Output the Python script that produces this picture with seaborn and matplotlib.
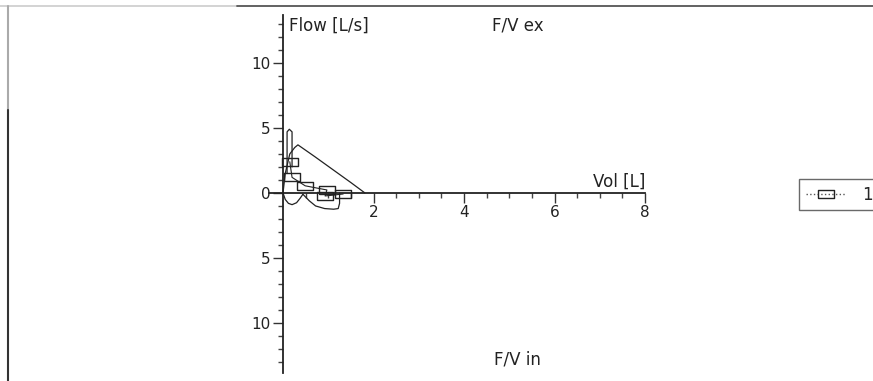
import matplotlib
matplotlib.use("Agg")
import matplotlib.pyplot as plt
from matplotlib.lines import Line2D
from matplotlib.ticker import FuncFormatter, FixedLocator
import seaborn as sns
import pandas as pd

# ---- data ----
exp_vol = [0.0, 0.05, 0.15, 0.26, 0.33, 0.7, 1.1, 1.5, 1.81]
exp_flow = [0.0, 1.5, 3.0, 3.5, 3.7, 2.8, 1.8, 0.8, 0.0]

spike_vol = [0.09, 0.09, 0.14, 0.2, 0.2]
spike_flow = [1.5, 4.7, 4.9, 4.7, 2.0]

insp1_vol = [0.0, 0.05, 0.12, 0.2, 0.3, 0.38, 0.44]
insp1_flow = [0.0, -0.5, -0.8, -0.9, -0.75, -0.4, -0.1]

insp2_vol = [0.44, 0.58, 0.72, 0.92, 1.12, 1.22, 1.25, 1.25]
insp2_flow = [-0.1, -0.6, -1.0, -1.2, -1.25, -1.2, -0.8, 0.0]

sq_vol = [0.15, 0.2, 0.49, 0.97, 0.93, 1.33]
sq_flow = [2.4, 1.2, 0.55, 0.23, -0.23, -0.08]

series_label = "1"
x_ticks = [2, 4, 6, 8]
y_ticks = [-10, -5, 0, 5, 10]

sns.set_style("white")
plt.rcParams['font.family'] = ['DejaVu Sans']

fig = plt.figure(figsize=(8.73, 3.81), dpi=100)
W, H = 873, 381
x0px = 283 - 0.3 * 45.25
ax = fig.add_axes([x0px / W, (381 - 373) / H, (645 - x0px) / W, (373 - 15) / H])
ax.set_facecolor("white")

lc = "#222222"
for xs, ys in [(exp_vol, exp_flow), (spike_vol, spike_flow),
               (insp1_vol, insp1_flow), (insp2_vol, insp2_flow)]:
    df = pd.DataFrame({"vol": xs, "flow": ys})
    sns.lineplot(data=df, x="vol", y="flow", sort=False, estimator=None,
                 color=lc, linewidth=0.9, ax=ax)

rect = [(-1, -0.5), (1, -0.5), (1, 0.5), (-1, 0.5), (-1, -0.5)]
dfs = pd.DataFrame({"vol": sq_vol, "flow": sq_flow})
sns.lineplot(data=dfs, x="vol", y="flow", sort=False, estimator=None,
             color=lc, linewidth=0.8, marker=rect, markersize=12,
             markerfacecolor="none", markeredgecolor=lc, markeredgewidth=1.0,
             ax=ax)

ax.set_xlim(-0.3, 8.0)
ax.set_ylim(-13.85, 13.69)
ax.set_xlabel("")
ax.set_ylabel("")

for s in ["top", "right"]:
    ax.spines[s].set_visible(False)
ax.spines["left"].set_position(("data", 0))
ax.spines["bottom"].set_position(("data", 0))
for s in ["left", "bottom"]:
    ax.spines[s].set_color("#222222")
    ax.spines[s].set_linewidth(1.3)

ax.xaxis.set_major_locator(FixedLocator(x_ticks))
ax.xaxis.set_minor_locator(FixedLocator([v * 0.5 for v in range(1, 17) if v % 4 != 0]))
ax.yaxis.set_major_locator(FixedLocator(y_ticks))
ax.yaxis.set_minor_locator(FixedLocator([v for v in range(-13, 14) if v % 5 != 0]))
ax.yaxis.set_major_formatter(FuncFormatter(lambda v, p: f"{abs(int(v))}"))
ax.xaxis.set_major_formatter(FuncFormatter(lambda v, p: f"{int(v)}"))
ax.tick_params(axis="both", which="both", bottom=True, left=True)
ax.tick_params(axis="both", which="major", direction="out", length=7,
               width=1, color="#333333", labelsize=11, labelcolor="#222222", pad=2)
ax.tick_params(axis="both", which="minor", direction="out", length=3.5,
               width=1, color="#444444")

# texts
fs = 12
fig.text(289 / W, 1 - 26 / H, "Flow [L/s]", ha="left", va="center", fontsize=fs, color="#222222")
fig.text(492 / W, 1 - 26 / H, "F/V ex", ha="left", va="center", fontsize=fs, color="#222222")
fig.text(645 / W, 1 - 182 / H, "Vol [L]", ha="right", va="center", fontsize=fs, color="#222222")
fig.text(494 / W, 1 - 359 / H, "F/V in", ha="left", va="center", fontsize=fs, color="#222222")

# legend
handle = Line2D([], [], color="#555555", linestyle=":", linewidth=1.0, marker=rect, markersize=12,
                markerfacecolor="none", markeredgecolor=lc)
leg = fig.legend([handle], [series_label], loc="upper left",
                 bbox_to_anchor=(799 / W, 1 - 179 / H), frameon=True, fancybox=False,
                 edgecolor="#444444", fontsize=fs, handlelength=2.4, borderpad=0.4,
                 handletextpad=1.0, borderaxespad=0)
leg.get_frame().set_linewidth(1.0)

# screenshot frame lines
fig.add_artist(Line2D([0, 237 / W], [1 - 5.5 / H, 1 - 5.5 / H], color="#cccccc", linewidth=1.2))
fig.add_artist(Line2D([237 / W, 1], [1 - 5.5 / H, 1 - 5.5 / H], color="#555555", linewidth=1.3))
fig.add_artist(Line2D([8 / W, 8 / W], [1 - 6 / H, 1 - 110 / H], color="#aaaaaa", linewidth=1.5))
fig.add_artist(Line2D([8 / W, 8 / W], [1 - 110 / H, 0], color="#333333", linewidth=1.5))

fig.savefig("out.png", dpi=100, facecolor="white")
